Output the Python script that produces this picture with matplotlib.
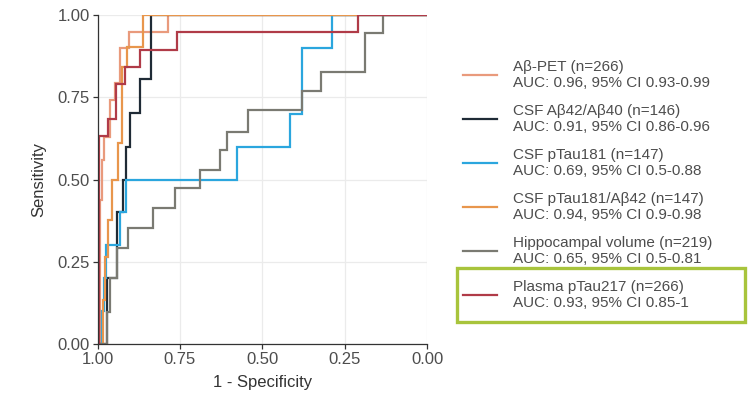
import matplotlib
matplotlib.use("Agg")
import matplotlib.pyplot as plt
from matplotlib.patches import Rectangle

plt.rcParams['font.family'] = ['Liberation Sans', 'DejaVu Sans']

# ROC step curves: x axis values (as labelled, 1 -> 0) and sensitivity
labels = [
    "A\u03b2-PET (n=266)\nAUC: 0.96, 95% CI 0.93-0.99",
    "CSF A\u03b242/A\u03b240 (n=146)\nAUC: 0.91, 95% CI 0.86-0.96",
    "CSF pTau181 (n=147)\nAUC: 0.69, 95% CI 0.5-0.88",
    "CSF pTau181/A\u03b242 (n=147)\nAUC: 0.94, 95% CI 0.9-0.98",
    "Hippocampal volume (n=219)\nAUC: 0.65, 95% CI 0.5-0.81",
    "Plasma pTau217 (n=266)\nAUC: 0.93, 95% CI 0.85-1",
]
colors = ["#e99a7c", "#1f2b36", "#2ba6de", "#e8964c", "#7a7a72", "#b03b48"]

abpet_x = [1.0, 0.992, 0.986, 0.980, 0.962, 0.947, 0.932, 0.904, 0.786, 0.0]
abpet_y = [0.0, 0.0, 0.438, 0.559, 0.629, 0.742, 0.793, 0.900, 0.948, 1.0]

csfratio_x = [1.0, 0.971, 0.941, 0.923, 0.914, 0.901, 0.871, 0.838, 0.0]
csfratio_y = [0.0, 0.0, 0.201, 0.401, 0.500, 0.600, 0.702, 0.805, 1.0]

ptau181_x = [1.0, 0.986, 0.980, 0.974, 0.932, 0.914, 0.577, 0.416, 0.379, 0.288, 0.0]
ptau181_y = [0.0, 0.0, 0.1, 0.2, 0.3, 0.4, 0.5, 0.6, 0.7, 0.9, 1.0]

ptauab_x = [1.0, 0.983, 0.977, 0.968, 0.956, 0.938, 0.926, 0.910, 0.862, 0.0]
ptauab_y = [0.0, 0.0, 0.134, 0.264, 0.377, 0.500, 0.611, 0.842, 0.903, 1.0]

hippo_x = [1.0, 0.971, 0.962, 0.941, 0.907, 0.832, 0.765, 0.689, 0.628, 0.607,
           0.543, 0.379, 0.322, 0.188, 0.134, 0.0]
hippo_y = [0.0, 0.0, 0.097, 0.201, 0.292, 0.353, 0.413, 0.474, 0.529, 0.590,
           0.644, 0.711, 0.769, 0.827, 0.945, 1.0]

plasma_x = [1.0, 0.995, 0.968, 0.944, 0.917, 0.871, 0.759, 0.209, 0.0]
plasma_y = [0.0, 0.0, 0.632, 0.684, 0.789, 0.842, 0.895, 0.947, 1.0]

series = [(abpet_x, abpet_y), (csfratio_x, csfratio_y), (ptau181_x, ptau181_y),
          (ptauab_x, ptauab_y), (hippo_x, hippo_y), (plasma_x, plasma_y)]

ticks = [1.00, 0.75, 0.50, 0.25, 0.00]
tick_labels = ["1.00", "0.75", "0.50", "0.25", "0.00"]

fig = plt.figure(figsize=(7.55, 3.97), dpi=100)
ax = fig.add_axes([97.5 / 755, 53 / 397, 329.5 / 755, 329 / 397])

handles = []
for (xs, ys), c, lab in zip(series, colors, labels):
    h, = ax.plot(xs, ys, drawstyle='steps-pre', color=c, lw=1.6, label=lab,
                 solid_joinstyle='miter')
    handles.append(h)

ax.set_xlim(1.0, 0.0)
ax.set_ylim(0.0, 1.0)
ax.set_xticks(ticks)
ax.set_xticklabels(tick_labels)
ax.set_yticks(ticks)
ax.set_yticklabels(tick_labels)
ax.grid(True, color="#ebebeb", lw=0.9)
ax.set_axisbelow(True)
for s in ['top', 'right']:
    ax.spines[s].set_visible(False)
for s in ['left', 'bottom']:
    ax.spines[s].set_color("#333333")
    ax.spines[s].set_linewidth(0.9)
ax.tick_params(axis='both', direction='out', length=3.5, width=0.9,
               color="#333333", labelcolor="#4d4d4d", labelsize=12, pad=2)
ax.set_xlabel("1 - Specificity", fontsize=12, color="#333333", labelpad=6)
ax.set_ylabel("Sensitivity", fontsize=12, color="#333333", labelpad=8)

leg = fig.legend(handles=handles, loc='upper left',
                 bbox_to_anchor=(463 / 755, (397 - 60) / 397),
                 frameon=False, fontsize=11, handlelength=2.22,
                 handletextpad=1.05, labelspacing=0.9, borderpad=0,
                 borderaxespad=0)
for t in leg.get_texts():
    t.set_color("#4d4d4d")
    t.set_linespacing(1.2)
for l in leg.get_lines():
    l.set_linewidth(1.6)

fig.patches.append(Rectangle((457 / 755, 75 / 397), 288 / 755, 54 / 397,
                             transform=fig.transFigure, fill=False,
                             edgecolor="#a8c43c", lw=2.4))

fig.savefig("out.png", dpi=100)
